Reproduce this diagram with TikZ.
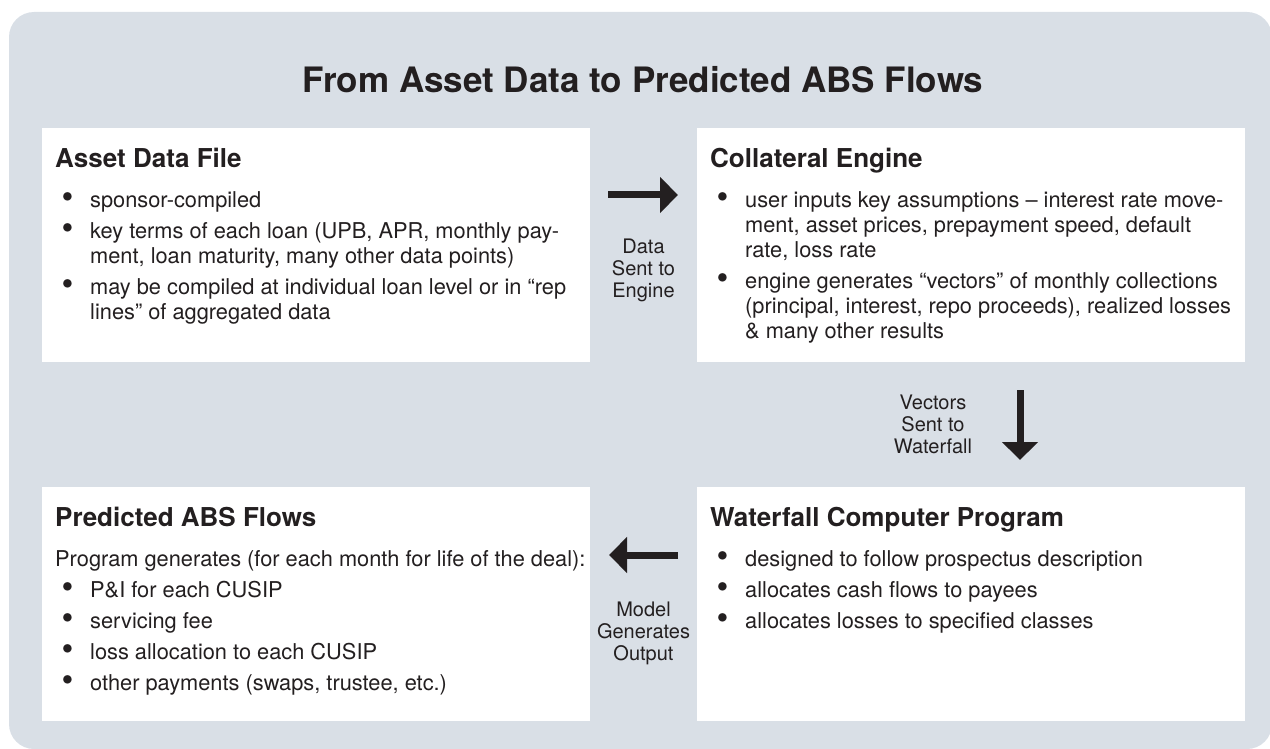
\documentclass[tikz,border=0pt]{standalone}
\usepackage{fontspec}
\setmainfont{TeX Gyre Heros}
\usetikzlibrary{arrows.meta}
\definecolor{bgc}{RGB}{217,223,230}
\definecolor{ink}{RGB}{35,31,32}
\newcommand{\bdot}{\raisebox{-1.2pt}{\scalebox{1.55}{\textbullet}}}
\newcommand{\bitem}[1]{\par\hangindent=35pt\hangafter=1\noindent\makebox[35pt][l]{\hspace{6.5pt}\bdot}#1}
\newcommand{\plain}[1]{\par\noindent #1}
\newcommand{\panelbody}[2]{\parbox[t][234pt][t]{548pt}{\leftskip=13pt\rightskip=0pt plus 1fil\parindent=0pt\parskip=0pt
\fontsize{26pt}{30pt}\selectfont\bfseries\noindent\rule{0pt}{39pt}#1\par
\vspace{9pt}\fontsize{21.8pt}{25pt}\selectfont\mdseries\parskip=6pt #2\par}}
\tikzset{
  panel/.style={fill=white, inner sep=0pt, anchor=north west, text=ink},
  flowarrow/.style={draw=ink, line width=7pt, -{Triangle[length=18pt,width=35pt]}},
  lbl/.style={align=center, font=\fontsize{20pt}{22pt}\selectfont, text=ink, inner sep=0pt},
  maintitle/.style={font=\fontsize{35pt}{40pt}\selectfont\bfseries, text=ink, inner sep=0pt}
}
\begin{document}
\begin{tikzpicture}[x=1pt,y=-1pt]
\clip (0,0) rectangle (1270,749);
\fill[bgc, rounded corners=25pt] (9,12) rectangle (1272,749);
\node[maintitle] (title) at (643,80) {From Asset Data to Predicted ABS Flows};
\node[panel] (asset) at (42,128) {\panelbody{Asset Data File}{%
\bitem{sponsor-compiled}
\bitem{key terms of each loan (UPB, APR, monthly pay-\\ment, loan maturity, many other data points)}
\bitem{may be compiled at individual loan level or in “rep\\lines” of aggregated data}}};
\node[panel] (engine) at (697,128) {\panelbody{Collateral Engine}{%
\bitem{user inputs key assumptions – interest rate move-\\ment, asset prices, prepayment speed, default\\rate, loss rate}
\bitem{engine generates “vectors” of monthly collections\\(principal, interest, repo proceeds), realized losses\\\& many other results}}};
\node[panel] (flows) at (42,487) {\panelbody{Predicted ABS Flows}{%
\plain{Program generates (for each month for life of the deal):}
\bitem{P\&I for each CUSIP}
\bitem{servicing fee}
\bitem{loss allocation to each CUSIP}
\bitem{other payments (swaps, trustee, etc.)}}};
\node[panel] (waterfall) at (697,487) {\panelbody{Waterfall Computer Program}{%
\bitem{designed to follow prospectus description}
\bitem{allocates cash flows to payees}
\bitem{allocates losses to specified classes}}};
\node[lbl] (l1) at (643.5,270) {Data\\Sent to\\Engine};
\node[lbl] (l2) at (933,424) {Vectors\\Sent to\\Waterfall};
\node[lbl] (l3) at (643.5,633) {Model\\Generates\\Output};
\coordinate (a1s) at (608,195);
\coordinate (a1e) at (678,195);
\coordinate (a2s) at (1020,390);
\coordinate (a2e) at (1020,460);
\coordinate (a3s) at (678,555);
\coordinate (a3e) at (609,555);
\draw[flowarrow] (a1s) -- (a1e);
\draw[flowarrow] (a2s) -- (a2e);
\draw[flowarrow] (a3s) -- (a3e);
\end{tikzpicture}
\end{document}
